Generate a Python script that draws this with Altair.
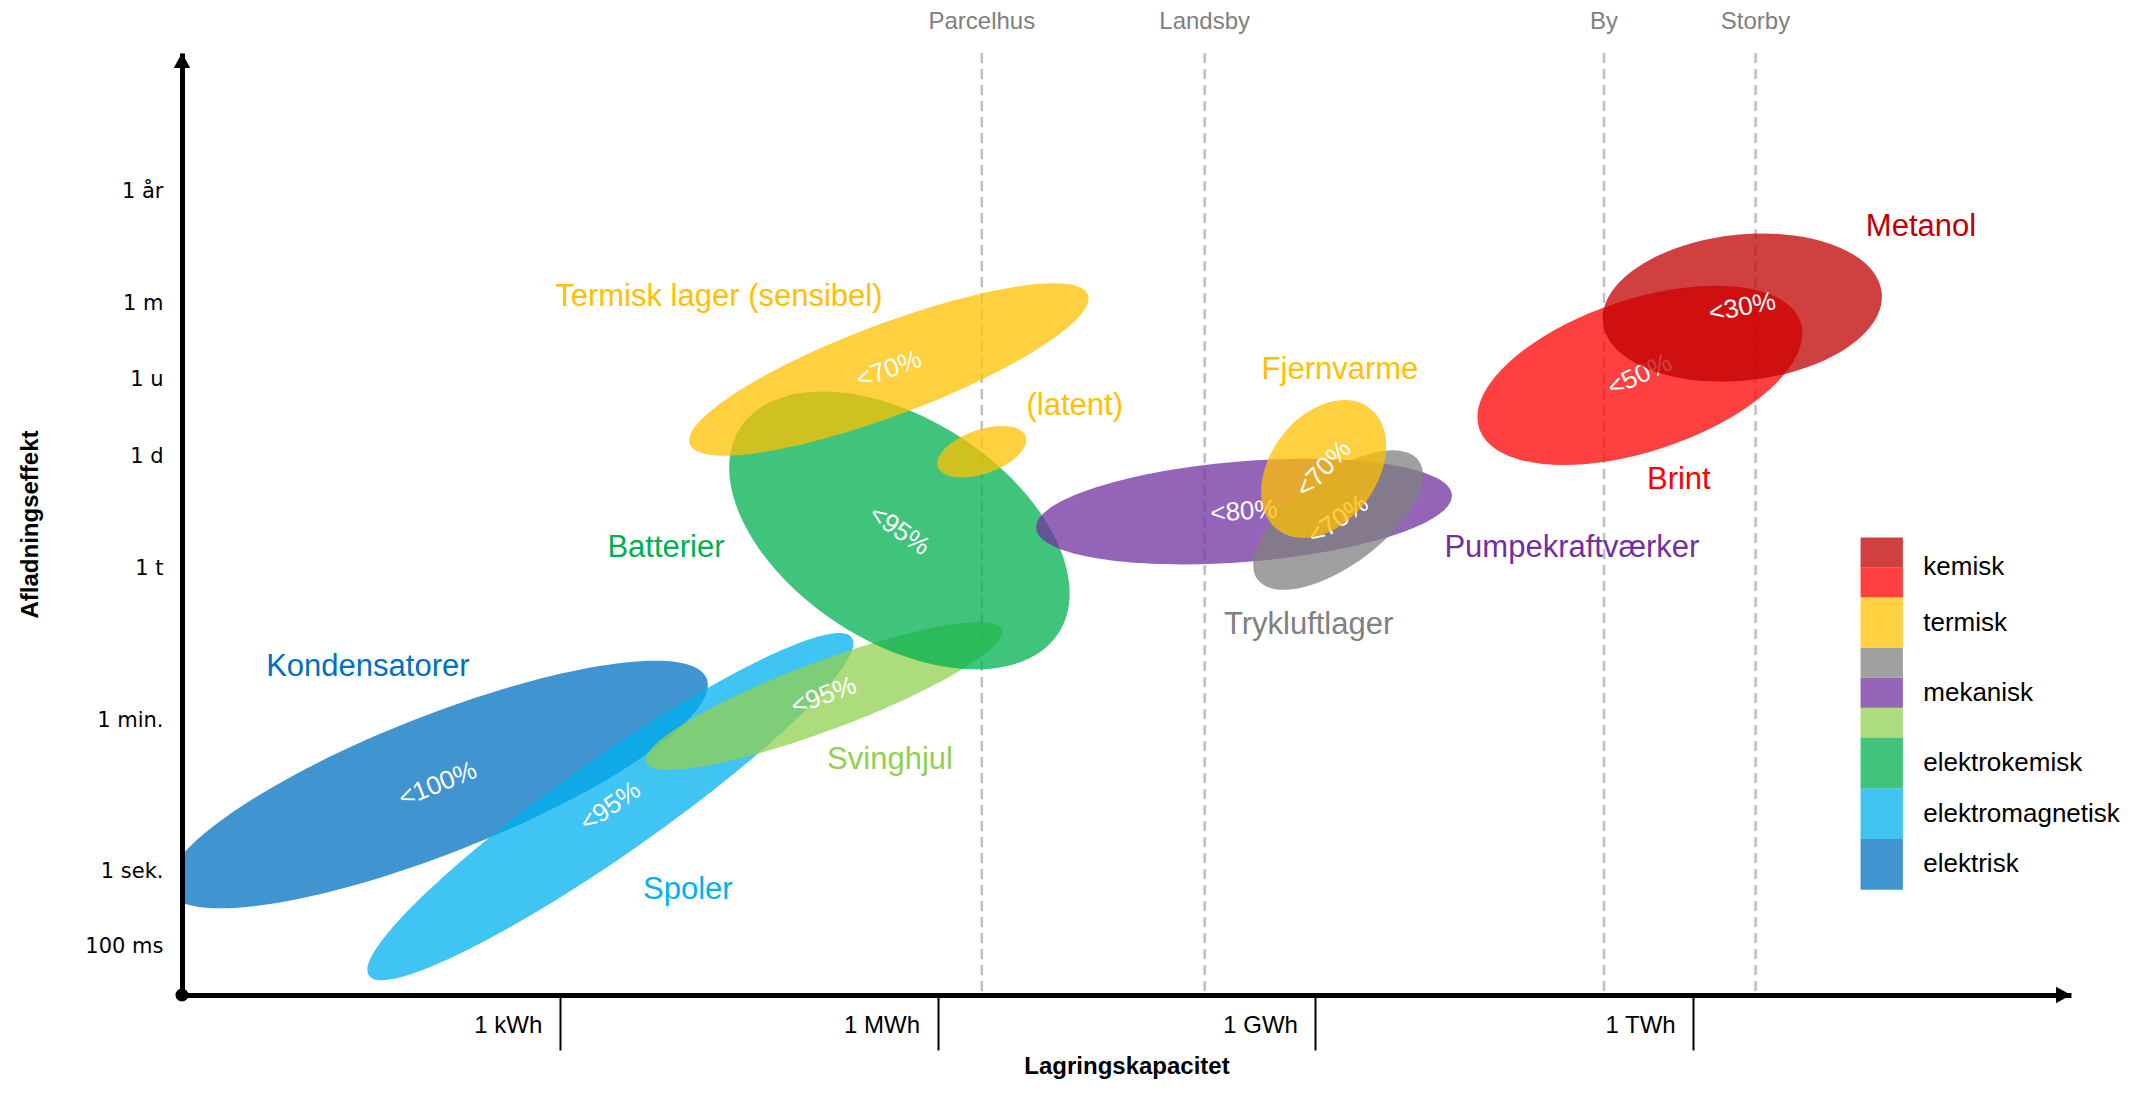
import altair as alt
import pandas as pd

# ---------------- data ----------------
NAMES = ["Kondensatorer", "Spoler", "Svinghjul", "Batterier", "Termisk lager (sensibel)",
         "(latent)", "Pumpekraftværker", "Trykluftlager", "Fjernvarme", "Brint", "Metanol"]
CATEGORY = ["elektrisk", "elektromagnetisk", "mekanisk", "elektrokemisk", "termisk",
            "termisk", "mekanisk", "mekanisk", "termisk", "kemisk", "kemisk"]
COLORS = ["#0070C0", "#00B0F0", "#92D050", "#00B050", "#FFC000",
          "#FFC000", "#7030A0", "#808080", "#FFC000", "#FF0000", "#C00000"]
# centre of each technology region: capacity (decades, 1 = 1 kWh) and discharge-time axis units
CAP_CENTER = [0.677, 1.134, 1.699, 1.899, 1.871, 2.117, 2.811, 3.060, 3.022, 3.859, 4.130]
TIME_CENTER = [2.793, 2.499, 3.969, 6.164, 8.300, 7.209, 6.415, 6.303, 6.980, 8.223, 9.123]
# semi-axes of each region (in capacity decades) and tilt (degrees, clockwise)
SEMI_MAJOR = [0.765, 0.780, 0.503, 0.501, 0.563, 0.123, 0.552, 0.265, 0.202, 0.448, 0.371]
SEMI_MINOR = [0.182, 0.127, 0.091, 0.295, 0.121, 0.058, 0.133, 0.120, 0.141, 0.201, 0.193]
TILT = [338.5, 325.0, 339.5, 32.8, 339.4, 340.7, 355.4, 323.5, 306.8, 341.7, 353.9]
EFFICIENCY = ["<100%", "<95%", "<95%", "<95%", "<70%", "", "<80%", "<70%", "<70%", "<50%", "<30%"]
TEXT_TILT = [338, 325, 340, 35, 340, 0, 356, 325, 313, 335, 349]
LABEL_CAP = [0.492, 1.339, 1.874, 1.281, 1.421, 2.363, 3.679, 2.982, 3.065, 3.962, 4.603]
LABEL_TIME = [4.350, 1.393, 3.118, 5.932, 9.266, 7.816, 5.927, 4.911, 8.287, 6.834, 10.191]

X_TICK_POS = [1, 2, 3, 4]
X_TICK_LABELS = ["1 kWh", "1 MWh", "1 GWh", "1 TWh"]
Y_TICK_POS = [0.650, 1.645, 3.641, 5.656, 7.143, 8.161, 9.176, 10.664]
Y_TICK_LABELS = ["100 ms", "1 sek.", "1 min.", "1 t", "1 d", "1 u", "1 m", "1 år"]

REF_NAMES = ["Parcelhus", "Landsby", "By", "Storby"]
REF_CAP = [2.117, 2.707, 3.764, 4.165]

LEGEND_GROUPS = ["kemisk", "termisk", "mekanisk", "elektrokemisk", "elektromagnetisk", "elektrisk"]
LEGEND_GROUP_COLORS = [["#C00000", "#FF0000"], ["#FFC000"], ["#808080", "#7030A0", "#92D050"],
                       ["#00B050"], ["#00B0F0"], ["#0070C0"]]

# ---------------- layout ----------------
W, H = 1889, 942
X_MAX, Y_MAX = 5.0, 12.5
PX = W / X_MAX
FONT = "Liberation Sans"
LEG_X0, LEG_X1, LEG_TEXT_X = 4.443, 4.555, 4.609
LEG_BOTTOM, LEG_UNIT, LEG_SINGLE = 1.397, 0.396, 1.7


def ellipse_path(r):
    return f"M -1 0 A 1 {r:.4f} 0 1 1 1 0 A 1 {r:.4f} 0 1 1 -1 0 Z"


def label_expr(pos, labels):
    expr = "''"
    for p, l in reversed(list(zip(pos, labels))):
        expr = f"abs(datum.value - {p}) < 0.001 ? '{l}' : ({expr})"
    return expr


df = pd.DataFrame({
    "name": NAMES, "category": CATEGORY, "color": COLORS,
    "cap": CAP_CENTER, "time": TIME_CENTER, "tilt": TILT,
    "eff": EFFICIENCY, "text_tilt": TEXT_TILT,
    "lcap": LABEL_CAP, "ltime": LABEL_TIME,
})
df["path"] = [ellipse_path(b / a) for a, b in zip(SEMI_MAJOR, SEMI_MINOR)]
df["size"] = [(2 * a * PX) ** 2 for a in SEMI_MAJOR]

# legend table (stacked from the bottom)
leg_rows, leg_labels = [], []
y = LEG_BOTTOM
for grp, cols in reversed(list(zip(LEGEND_GROUPS, LEGEND_GROUP_COLORS))):
    g0 = y
    hs = [LEG_SINGLE] if len(cols) == 1 else [1.0] * len(cols)
    for c, h in zip(reversed(cols), hs):
        leg_rows.append({"x0": LEG_X0, "x1": LEG_X1, "y0": y, "y1": y + h * LEG_UNIT, "color": c})
        y += h * LEG_UNIT
    leg_labels.append({"x": LEG_TEXT_X, "y": (g0 + y) / 2, "label": grp})
leg_df = pd.DataFrame(leg_rows)
leg_lab_df = pd.DataFrame(leg_labels)

ref_df = pd.DataFrame({"name": REF_NAMES, "cap": REF_CAP})

# ---------------- scales / axes ----------------
XS = alt.Scale(domain=[0, X_MAX], nice=False, zero=False)
YS = alt.Scale(domain=[0, Y_MAX], nice=False, zero=False)
XA = alt.Axis(values=X_TICK_POS, labelExpr=label_expr(X_TICK_POS, X_TICK_LABELS),
              domainColor="black", domainWidth=5, tickColor="black", tickWidth=2, tickSize=55,
              labelAlign="right", labelBaseline="middle", labelOffset=-18, labelPadding=-25,
              labelFont=FONT, labelFontSize=24, labelColor="black", labelFlush=False,
              labelOverlap=False, grid=False, zindex=1,
              title="Lagringskapacitet", titleFont=FONT, titleFontSize=24, titleFontWeight="bold",
              titleColor="black", titleX=W / 2, titleY=71, titleAlign="center",
              titleBaseline="middle")
YA = alt.Axis(values=Y_TICK_POS, labelExpr=label_expr(Y_TICK_POS, Y_TICK_LABELS),
              domainColor="black", domainWidth=5, ticks=False, labelPadding=19,
              labelAlign="right", labelBaseline="middle", labelFont="DejaVu Sans",
              labelFontSize=21, labelColor="black", labelFlush=False, labelOverlap=False,
              grid=False, zindex=1,
              title="Afladningseffekt", titleFont=FONT, titleFontSize=24, titleFontWeight="bold",
              titleColor="black", titleX=-152, titleY=H / 2, titleAngle=270,
              titleAlign="center", titleBaseline="middle")


def X(f):
    return alt.X(f, type="quantitative", scale=XS, axis=XA)


def Y(f):
    return alt.Y(f, type="quantitative", scale=YS, axis=YA)


layers = []

# reference lines (house, village, town, city)
layers.append(alt.Chart(ref_df).mark_rule(color="#BFBFBF", strokeWidth=2.5, strokeDash=[10, 6])
              .encode(x=X("cap")))
layers.append(alt.Chart(ref_df).mark_text(font=FONT, fontSize=24, color="#808080",
                                          baseline="middle", dy=-31)
              .encode(x=X("cap"), y=alt.value(0), text="name:N"))

# ellipses with efficiency labels, in drawing order
for i in range(len(NAMES)):
    sub = df.iloc[[i]]
    layers.append(alt.Chart(sub).mark_point(filled=True, opacity=0.75, strokeWidth=0, clip=True)
                  .encode(x=X("cap"), y=Y("time"),
                          shape=alt.Shape("path:N", scale=None),
                          size=alt.Size("size:Q", scale=None),
                          angle=alt.Angle("tilt:Q", scale=None),
                          color=alt.Color("color:N", scale=None)))
    if EFFICIENCY[i]:
        layers.append(alt.Chart(sub).mark_text(font=FONT, fontSize=26, color="white",
                                               align="center", baseline="middle")
                      .encode(x=X("cap"), y=Y("time"), text="eff:N",
                              angle=alt.Angle("text_tilt:Q", scale=None)))

# technology names
layers.append(alt.Chart(df).mark_text(font=FONT, fontSize=31, align="center", baseline="middle")
              .encode(x=X("lcap"), y=Y("ltime"), text="name:N",
                      color=alt.Color("color:N", scale=None)))

# legend
layers.append(alt.Chart(leg_df).mark_rect(opacity=0.75)
              .encode(x=X("x0"), x2="x1", y=Y("y0"), y2="y1",
                      color=alt.Color("color:N", scale=None)))
layers.append(alt.Chart(leg_lab_df).mark_text(font=FONT, fontSize=26, color="black",
                                              align="left", baseline="middle")
              .encode(x=X("x"), y=Y("y"), text="label:N"))

# axis decorations: origin dot and arrow heads
ARROW = "M 0 0 L -0.55 1 L 0.55 1 Z"
arrow_df = pd.DataFrame({"cap": [0.0, X_MAX], "time": [Y_MAX, 0.0], "rot": [0, 90]})
layers.append(alt.Chart(arrow_df).mark_point(shape=ARROW, filled=True, color="black", size=900,
                                             opacity=1, strokeWidth=0)
              .encode(x=X("cap"), y=Y("time"), angle=alt.Angle("rot:Q", scale=None)))
origin_df = pd.DataFrame({"cap": [0.0], "time": [0.0]})
layers.append(alt.Chart(origin_df).mark_point(shape="circle", filled=True, color="black",
                                              size=170, opacity=1, strokeWidth=0)
              .encode(x=X("cap"), y=Y("time")))

chart = (alt.layer(*layers)
         .properties(width=W, height=H, background="white",
                     padding={"left": 174, "top": 45, "right": 60, "bottom": 87},
                     autosize=alt.AutoSizeParams(type="none"))
         .configure_view(stroke=None))

chart.save("out.html", embed_options={"renderer": "svg", "actions": False})
